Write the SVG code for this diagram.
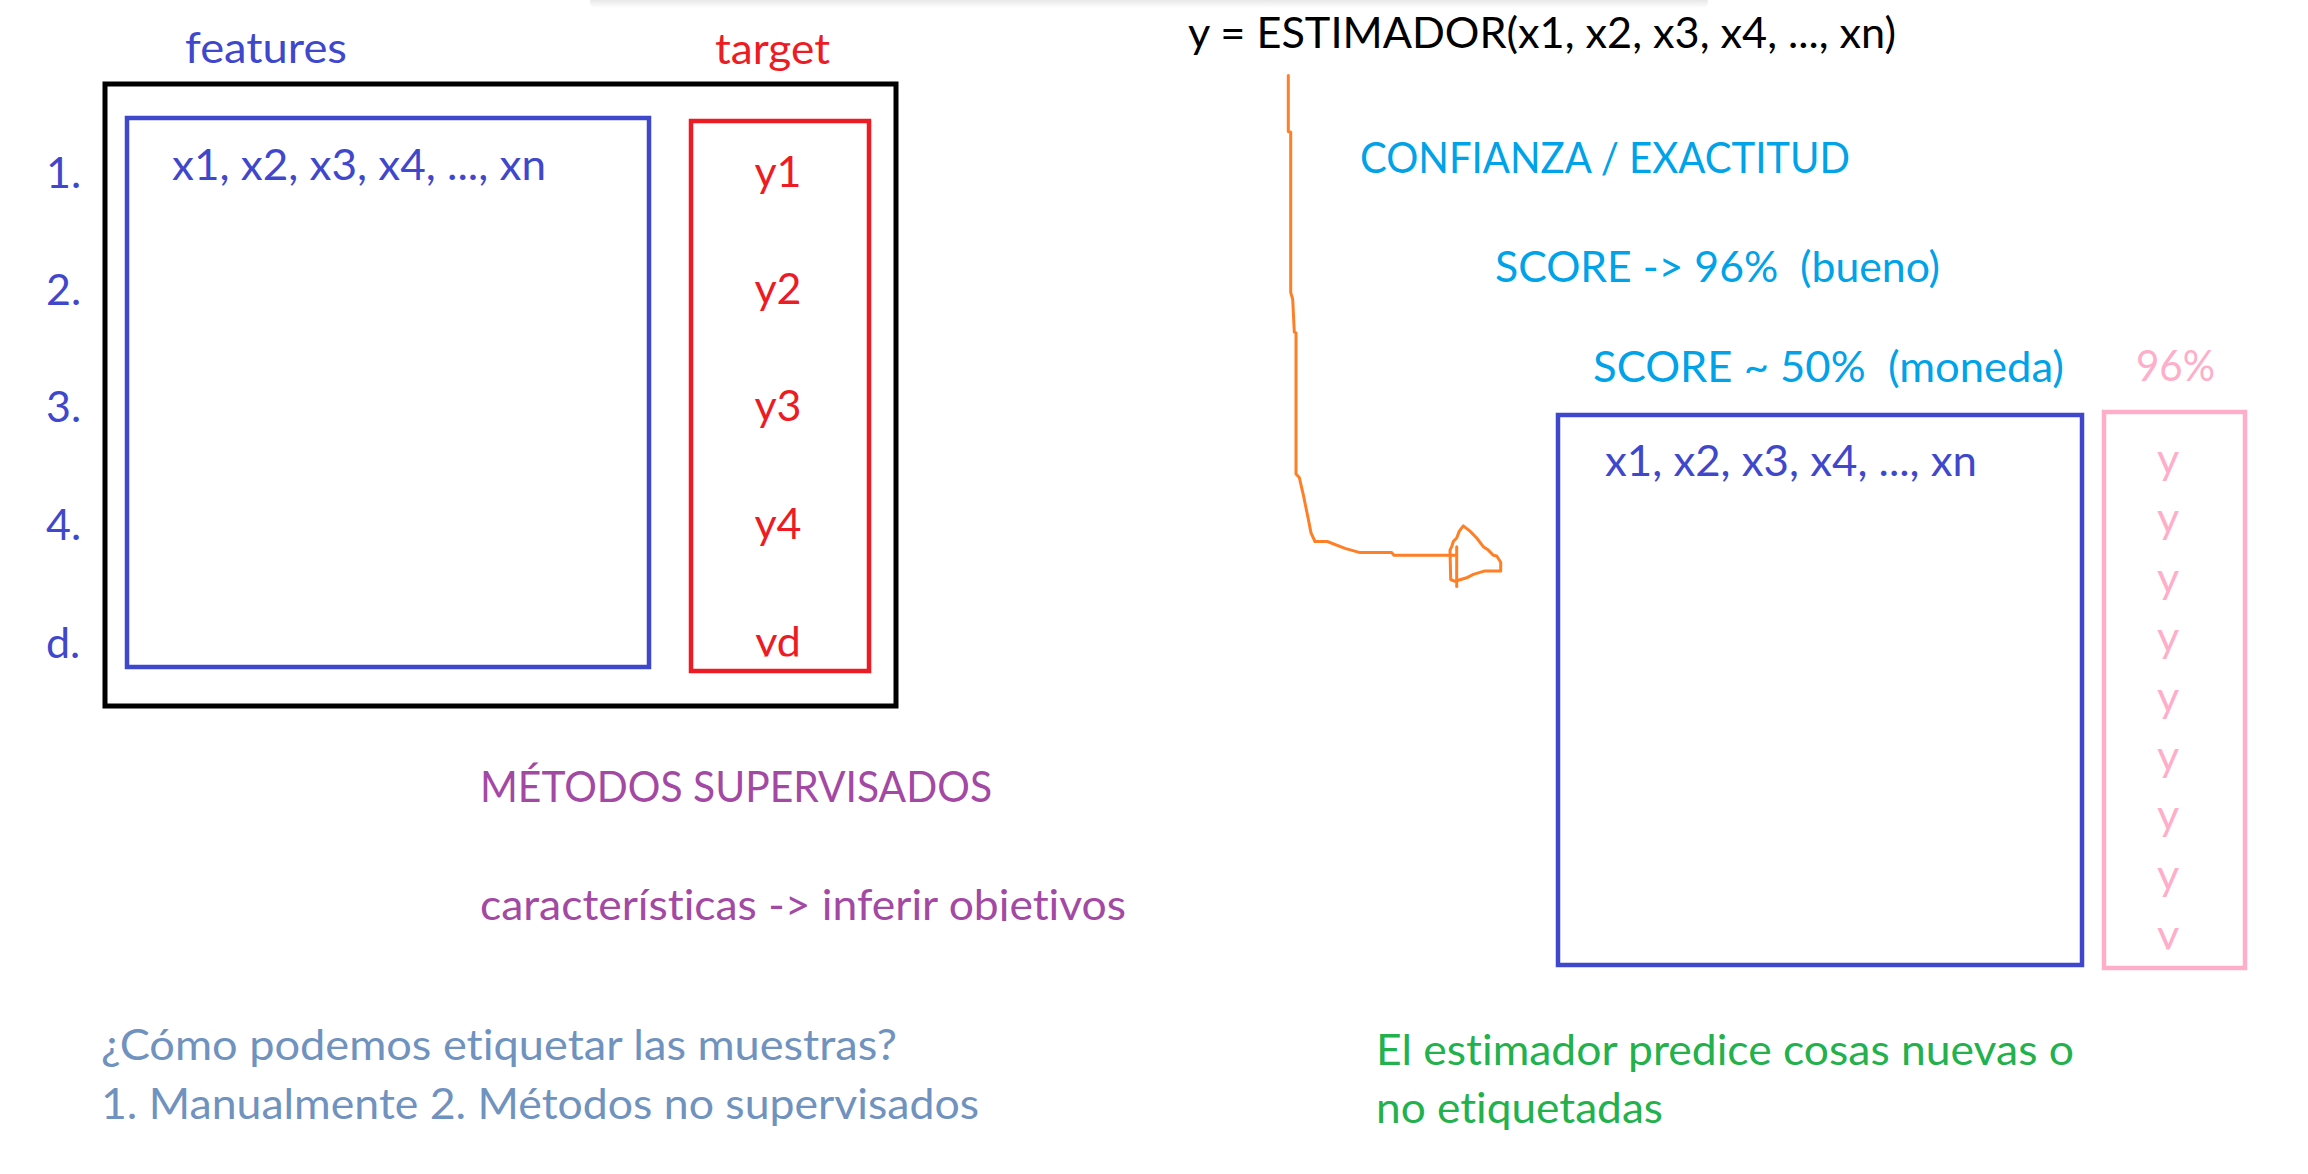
<svg xmlns="http://www.w3.org/2000/svg" width="2308" height="1174" viewBox="0 0 2308 1174">
  <style>
    text { font-family: Lato, "Open Sans", "Liberation Sans", sans-serif; font-size: 43px; white-space: pre; font-variant-ligatures: none; font-feature-settings: "liga" 0, "dlig" 0; }
    .indigo { fill: #3F48CC; }
    .red { fill: #ED1C24; }
    .cyan { fill: #00A2E8; }
    .pink { fill: #FFAEC9; }
    .purple { fill: #A349A4; }
    .slate { fill: #7092BE; }
    .green { fill: #22B14C; }
    .black { fill: #000000; }
    .mid { text-anchor: middle; }
    .box { fill: none; stroke-width: 4.5; }
  </style>
  <defs>
    <linearGradient id="shadow" x1="0" y1="0" x2="0" y2="1">
      <stop offset="0" stop-color="#dcdcdc"/>
      <stop offset="1" stop-color="#ffffff"/>
    </linearGradient>
    <clipPath id="clipRed"><rect x="680" y="100" width="200" height="556.5"/></clipPath>
    <clipPath id="clipPink"><rect x="2090" y="400" width="170" height="549.5"/></clipPath>
    <clipPath id="clipObj"><rect x="470" y="860" width="700" height="61"/></clipPath>
  </defs>
  <rect width="2308" height="1174" fill="#ffffff"/>
  <rect x="590" y="-4" width="1118" height="12" rx="6" fill="url(#shadow)"/>

  <g id="training-table">
    <rect x="105" y="84" width="791" height="622" fill="none" stroke="#000000" stroke-width="5"/>
    <text class="indigo" x="185" y="63" textLength="162" lengthAdjust="spacingAndGlyphs">features</text>
    <text class="red" x="715" y="64" textLength="115" lengthAdjust="spacingAndGlyphs">target</text>
    <text class="indigo" x="46" y="188">1.</text>
    <text class="indigo" x="46" y="305">2.</text>
    <text class="indigo" x="46" y="422">3.</text>
    <text class="indigo" x="46" y="540">4.</text>
    <text class="indigo" x="46" y="658">d.</text>
  </g>

  <g id="features-box">
    <rect class="box" x="127" y="118" width="522" height="549" stroke="#3F48CC"/>
    <text class="indigo" x="172" y="180" textLength="374" lengthAdjust="spacingAndGlyphs">x1, x2, x3, x4, ..., xn</text>
  </g>

  <g id="target-box">
    <rect class="box" x="691" y="121" width="178" height="550" stroke="#ED1C24"/>
    <g clip-path="url(#clipRed)">
      <text class="red mid" x="778" y="187">y1</text>
      <text class="red mid" x="778" y="304">y2</text>
      <text class="red mid" x="778" y="421">y3</text>
      <text class="red mid" x="778" y="539">y4</text>
      <text class="red mid" x="778" y="656.5">yd</text>
    </g>
  </g>

  <g id="estimator-formula">
    <text class="black" x="1188" y="48" textLength="708" lengthAdjust="spacingAndGlyphs">y = ESTIMADOR(x1, x2, x3, x4, ..., xn)</text>
  </g>

  <g id="score-notes">
    <text class="cyan" x="1360" y="173" textLength="490" lengthAdjust="spacingAndGlyphs">CONFIANZA / EXACTITUD</text>
    <text class="cyan" x="1495" y="282" textLength="445" lengthAdjust="spacingAndGlyphs">SCORE -&gt; 96%  (bueno)</text>
    <text class="cyan" x="1593" y="382" textLength="471" lengthAdjust="spacingAndGlyphs">SCORE ~ 50%  (moneda)</text>
    <text class="pink" x="2136" y="381" textLength="79" lengthAdjust="spacingAndGlyphs">96%</text>
  </g>

  <g id="new-features-box">
    <rect class="box" x="1558" y="415" width="524" height="550" stroke="#3F48CC"/>
    <text class="indigo" x="1605" y="476" textLength="372" lengthAdjust="spacingAndGlyphs">x1, x2, x3, x4, ..., xn</text>
  </g>

  <g id="predictions-box">
    <rect class="box" x="2104" y="412" width="141" height="556" stroke="#FFAEC9"/>
    <g clip-path="url(#clipPink)">
      <text class="pink mid" x="2168" y="474">y</text>
      <text class="pink mid" x="2168" y="533.4">y</text>
      <text class="pink mid" x="2168" y="592.8">y</text>
      <text class="pink mid" x="2168" y="652.2">y</text>
      <text class="pink mid" x="2168" y="711.6">y</text>
      <text class="pink mid" x="2168" y="771">y</text>
      <text class="pink mid" x="2168" y="830.4">y</text>
      <text class="pink mid" x="2168" y="889.8">y</text>
      <text class="pink mid" x="2168" y="949.5">y</text>
    </g>
  </g>

  <g id="supervised-notes">
    <text class="purple" x="480" y="802" textLength="512" lengthAdjust="spacingAndGlyphs">MÉTODOS SUPERVISADOS</text>
    <g clip-path="url(#clipObj)">
      <text class="purple" x="480" y="920" textLength="646" lengthAdjust="spacingAndGlyphs">características -&gt; inferir objetivos</text>
    </g>
  </g>

  <g id="labeling-notes">
    <text class="slate" x="101" y="1060" textLength="796" lengthAdjust="spacingAndGlyphs">¿Cómo podemos etiquetar las muestras?</text>
    <text class="slate" x="101" y="1119" textLength="878" lengthAdjust="spacingAndGlyphs">1. Manualmente 2. Métodos no supervisados</text>
  </g>

  <g id="prediction-note">
    <text class="green" x="1376" y="1065" textLength="698" lengthAdjust="spacingAndGlyphs">El estimador predice cosas nuevas o</text>
    <text class="green" x="1376" y="1123" textLength="287" lengthAdjust="spacingAndGlyphs">no etiquetadas</text>
  </g>

  <g id="connectors" fill="none" stroke="#FF7F27" stroke-width="3" stroke-linejoin="round" stroke-linecap="round">
    <path d="M1288.3,75.4 L1288.3,131.5 L1290.7,132.2 L1290.7,292.4 L1292.7,299.3 L1294.3,332.2 L1296,332.8 L1296,474 L1299.3,477.5 L1303.3,494.8 L1308.3,519 L1311,532.9 L1315,541.5 L1327.3,541.5 L1345,548.4 L1360,552.6 L1391.7,552.6 L1394,555.3 L1456.7,555.3"/>
    <path d="M1456.7,546.7 L1456.7,586.5"/>
    <path d="M1450,550.1 L1450.7,579.5 L1455,581.3 L1466.7,577.8 L1473.3,574.4 L1485,570.9 L1500.7,570.9 L1500.7,562.3 L1496.7,556 L1493.3,555.3 L1488.3,550.1 L1483.3,546.7 L1476.7,538 L1470,531.1 L1463.3,525.9 L1459.3,531.1 L1456.7,538 L1453.3,541.5 L1451.7,546.7 Z"/>
  </g>
</svg>
